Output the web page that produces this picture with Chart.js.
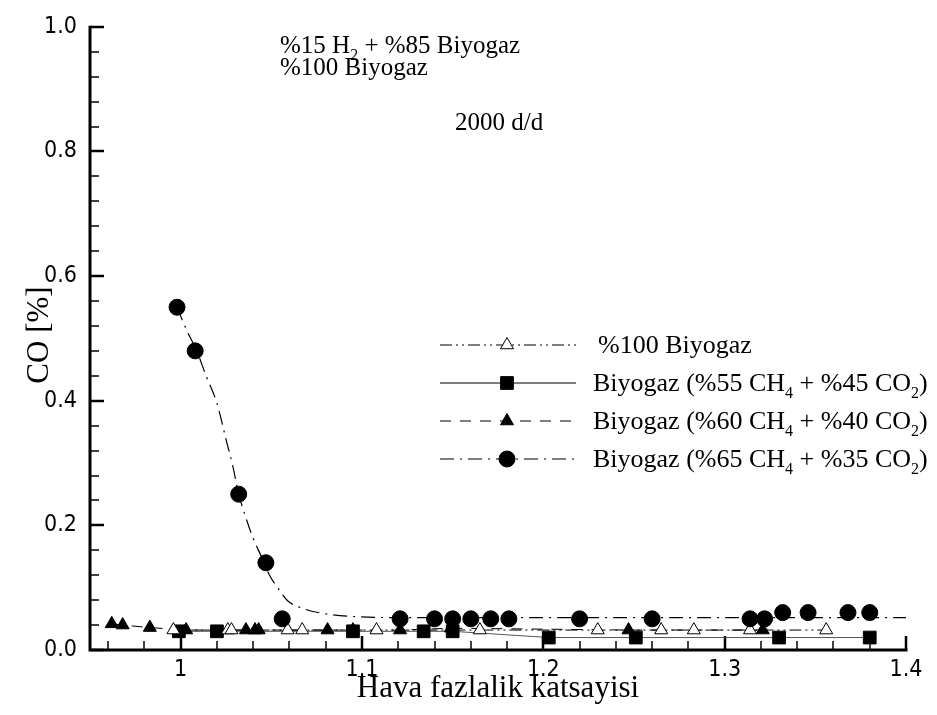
<!DOCTYPE html>
<html>
<head>
<meta charset="utf-8">
<script src="https://cdn.jsdelivr.net/npm/chart.js@4/dist/chart.umd.min.js"></script>
<style>
  html, body { margin: 0; padding: 0; background: #fff; }
  canvas { display: block; }
</style>
</head>
<body>
<canvas id="c" width="937" height="715"></canvas>
<script>
// CO emission vs. excess air ratio at 2000 d/d

// %100 Biyogaz (open triangles)
const bio100X = [0.996, 1.026, 1.028, 1.059, 1.067, 1.108, 1.165, 1.230, 1.265, 1.283, 1.314, 1.356];
const bio100Y = [0.032, 0.032, 0.032, 0.032, 0.032, 0.032, 0.032, 0.032, 0.032, 0.032, 0.032, 0.032];

// Biyogaz %55 CH4 + %45 CO2 (filled squares)
const bio55X = [0.999, 1.020, 1.095, 1.134, 1.150, 1.203, 1.251, 1.330, 1.380];
const bio55Y = [0.030, 0.030, 0.030, 0.030, 0.030, 0.020, 0.020, 0.020, 0.020];

// Biyogaz %60 CH4 + %40 CO2 (filled triangles)
const bio60X = [0.962, 0.968, 0.983, 1.003, 1.036, 1.041, 1.043, 1.081, 1.095, 1.121, 1.149, 1.247, 1.321];
const bio60Y = [0.042, 0.040, 0.036, 0.032, 0.032, 0.032, 0.032, 0.032, 0.032, 0.032, 0.035, 0.032, 0.032];

// Biyogaz %65 CH4 + %35 CO2 (filled circles)
const bio65X = [0.998, 1.008, 1.032, 1.047, 1.056, 1.121, 1.140, 1.150, 1.160, 1.171, 1.181, 1.220, 1.260, 1.314, 1.322, 1.332, 1.346, 1.368, 1.380];
const bio65Y = [0.55, 0.48, 0.25, 0.14, 0.05, 0.05, 0.05, 0.05, 0.05, 0.05, 0.05, 0.05, 0.05, 0.05, 0.05, 0.06, 0.06, 0.06, 0.06];

// smoothed trend curve of the %65 CH4 series
const bio65FitX = [0.998, 1.003, 1.009, 1.014, 1.020, 1.025, 1.029, 1.032, 1.036, 1.040, 1.045, 1.049, 1.054, 1.059, 1.067, 1.078, 1.094, 1.121, 1.200, 1.300, 1.400];
const bio65FitY = [0.550, 0.515, 0.479, 0.440, 0.396, 0.338, 0.292, 0.250, 0.212, 0.179, 0.147, 0.120, 0.098, 0.079, 0.067, 0.059, 0.054, 0.052, 0.052, 0.052, 0.052];

const xTickValues = [1, 1.1, 1.2, 1.3, 1.4];
const xTickLabels = ['1', '1.1', '1.2', '1.3', '1.4'];
const yTickValues = [0, 0.2, 0.4, 0.6, 0.8, 1.0];
const yTickLabels = ['0.0', '0.2', '0.4', '0.6', '0.8', '1.0'];

const legendLabels = [
  '%100 Biyogaz',
  'Biyogaz (%55 CH_4 + %45 CO_2)',
  'Biyogaz (%60 CH_4 + %40 CO_2)',
  'Biyogaz (%65 CH_4 + %35 CO_2)'
];
const noteLines = ['%15 H_2 + %85 Biyogaz', '%100 Biyogaz', '2000 d/d'];
const xTitle = 'Hava fazlalik katsayisi';
const yTitle = 'CO [%]';

const SERIF = "'Liberation Serif', 'DejaVu Serif', serif";
const TICKFONT = "'Liberation Sans Narrow', 'DejaVu Sans Condensed', 'Liberation Sans', sans-serif";

const pts = (xs, ys) => xs.map((x, i) => ({ x: x, y: ys[i] }));

// line styles per series
const DASH_100 = [12, 4, 2, 4, 2, 4];
const DASH_55 = [];
const DASH_60 = [11, 9];
const DASH_65 = [14, 6, 2, 6];

// text with "_x" subscripts
function drawRich(ctx, str, x, y, size) {
  const parts = str.split(/_(.)/);
  let cx = x;
  ctx.textBaseline = 'alphabetic';
  ctx.textAlign = 'left';
  parts.forEach((p, i) => {
    if (!p) return;
    const sub = i % 2 === 1;
    const s = sub ? Math.round(size * 0.62) : size;
    ctx.font = s + 'px ' + SERIF;
    ctx.fillText(p, cx, sub ? y + size * 0.28 : y);
    cx += ctx.measureText(p).width;
  });
}

const frame = {
  id: 'frame',
  beforeDatasetsDraw(chart) {
    const ctx = chart.ctx;
    const xs = chart.scales.x, ys = chart.scales.y;
    const L = chart.chartArea.left, B = chart.chartArea.bottom;
    const T = ys.getPixelForValue(1), R = xs.getPixelForValue(1.4);
    ctx.save();
    ctx.strokeStyle = '#000';
    ctx.lineCap = 'butt';
    // minor ticks
    ctx.lineWidth = 1.5;
    for (let v = 0.96; v < 1.401; v += 0.02) {
      const px = Math.round(xs.getPixelForValue(v));
      ctx.beginPath(); ctx.moveTo(px, B); ctx.lineTo(px, B - 9); ctx.stroke();
    }
    for (let v = 0.04; v < 1.0; v += 0.04) {
      const py = Math.round(ys.getPixelForValue(v));
      ctx.beginPath(); ctx.moveTo(L, py); ctx.lineTo(L + 9, py); ctx.stroke();
    }
    // major ticks
    ctx.lineWidth = 2.5;
    xTickValues.forEach(v => {
      const px = Math.round(xs.getPixelForValue(v));
      ctx.beginPath(); ctx.moveTo(px, B); ctx.lineTo(px, B - 14); ctx.stroke();
    });
    yTickValues.forEach(v => {
      const py = Math.round(ys.getPixelForValue(v));
      ctx.beginPath(); ctx.moveTo(L, py); ctx.lineTo(L + 14, py); ctx.stroke();
    });
    // axis lines
    ctx.lineWidth = 3;
    ctx.beginPath();
    ctx.moveTo(L, T - 1);
    ctx.lineTo(L, B);
    ctx.lineTo(R + 1.5, B);
    ctx.stroke();

    // axis titles
    ctx.fillStyle = '#000';
    ctx.font = '31px ' + SERIF;
    ctx.textAlign = 'center';
    ctx.textBaseline = 'middle';
    ctx.fillText(xTitle, (L + R) / 2, 689);
    ctx.save();
    ctx.translate(40, 335);
    ctx.rotate(-Math.PI / 2);
    ctx.fillText(yTitle, 0, 0);
    ctx.restore();

    // annotations
    drawRich(ctx, noteLines[0], 280, 53, 25);
    drawRich(ctx, noteLines[1], 280, 75, 25);
    drawRich(ctx, noteLines[2], 455, 130, 25);
    ctx.restore();
  },
  afterDatasetsDraw(chart) {
    const ctx = chart.ctx;
    const styles = [
      { dash: DASH_100, pointStyle: 'triangle', fill: '#fff', radius: 7.5 },
      { dash: DASH_55, pointStyle: 'rect', fill: '#000', radius: 9 },
      { dash: DASH_60, pointStyle: 'triangle', fill: '#000', radius: 7.5 },
      { dash: DASH_65, pointStyle: 'circle', fill: '#000', radius: 8 }
    ];
    const rows = [345, 383, 421, 459];
    ctx.save();
    styles.forEach((st, i) => {
      const y = rows[i];
      ctx.strokeStyle = '#000';
      ctx.lineWidth = 1;
      ctx.setLineDash(st.dash);
      ctx.beginPath(); ctx.moveTo(440, y); ctx.lineTo(576, y); ctx.stroke();
      ctx.setLineDash([]);
      ctx.fillStyle = st.fill;
      ctx.lineWidth = 1;
      Chart.helpers.drawPoint(ctx, { pointStyle: st.pointStyle, radius: st.radius, borderWidth: 1, rotation: 0 }, 507, y);
      ctx.fillStyle = '#000';
      drawRich(ctx, legendLabels[i], i === 0 ? 598 : 593, y + 8, 26);
    });
    ctx.restore();
  }
};

const common = { borderColor: '#000', borderWidth: 1, pointBorderColor: '#000', pointBorderWidth: 1, tension: 0, fill: false };

new Chart(document.getElementById('c'), {
  type: 'scatter',
  data: {
    datasets: [
      Object.assign({}, common, {
        label: legendLabels[3], data: pts(bio65X, bio65Y), showLine: false,
        pointStyle: 'circle', pointRadius: 8, pointBackgroundColor: '#000', order: 0
      }),
      Object.assign({}, common, {
        label: legendLabels[3] + ' trend', data: pts(bio65FitX, bio65FitY), showLine: true,
        pointRadius: 0, borderDash: DASH_65, borderWidth: 1.2, cubicInterpolationMode: 'monotone', order: 1
      }),
      Object.assign({}, common, {
        label: legendLabels[0], data: pts(bio100X, bio100Y), showLine: true,
        pointStyle: 'triangle', pointRadius: 7.5, pointBackgroundColor: '#fff', borderDash: DASH_100, order: 2
      }),
      Object.assign({}, common, {
        label: legendLabels[2], data: pts(bio60X, bio60Y), showLine: true,
        pointStyle: 'triangle', pointRadius: 7.5, pointBackgroundColor: '#000', borderDash: DASH_60, order: 3
      }),
      Object.assign({}, common, {
        label: legendLabels[1], data: pts(bio55X, bio55Y), showLine: true,
        pointStyle: 'rect', pointRadius: 9, pointBackgroundColor: '#000', borderColor: '#555', order: 4
      })
    ]
  },
  options: {
    responsive: false,
    animation: false,
    devicePixelRatio: 1,
    layout: { padding: { top: 19, right: 31, left: 0, bottom: 0 } },
    plugins: { legend: { display: false }, tooltip: { enabled: false } },
    scales: {
      x: {
        type: 'linear', min: 0.95, max: 1.4,
        grid: { display: false, drawTicks: false },
        border: { display: false },
        afterBuildTicks: s => { s.ticks = xTickValues.map(v => ({ value: v })); },
        afterFit: s => { s.height = 65; },
        ticks: {
          padding: 6, color: '#000', maxRotation: 0, autoSkip: false,
          font: { family: TICKFONT, size: 23 },
          callback: (v, i) => xTickLabels[i]
        }
      },
      y: {
        type: 'linear', min: 0, max: 1,
        grid: { display: false, drawTicks: false },
        border: { display: false },
        afterBuildTicks: s => { s.ticks = yTickValues.map(v => ({ value: v })); },
        afterFit: s => { s.width = 90; },
        ticks: {
          padding: 13, color: '#000', autoSkip: false,
          font: { family: TICKFONT, size: 23 },
          callback: (v, i) => yTickLabels[i]
        }
      }
    }
  },
  plugins: [frame]
});
</script>
</body>
</html>
